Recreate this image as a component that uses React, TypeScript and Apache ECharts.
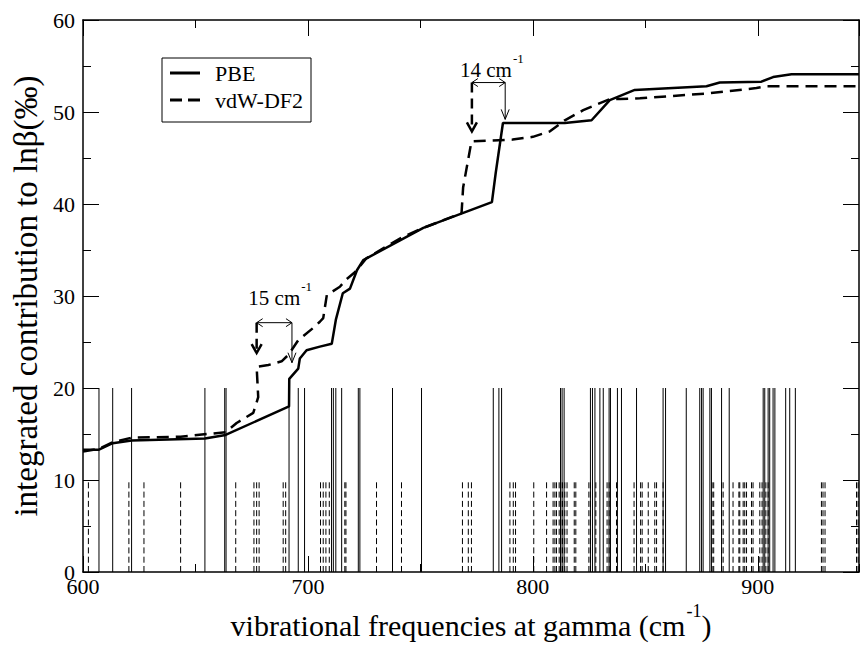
import React, { useEffect, useRef } from 'react';
import * as echarts from 'echarts';

const SERIF = '"Liberation Serif", "Times New Roman", Times, serif';

const X_MIN = 600;
const X_MAX = 945;
const Y_MIN = 0;
const Y_MAX = 60;

const X_TITLE_MAIN = 'vibrational frequencies at gamma (cm';
const X_TITLE_SUP = '-1';
const Y_TITLE = 'integrated contribution to lnβ(‰)';
const SERIES_NAMES = ['PBE', 'vdW-DF2'];

// vibrational frequencies (cm-1) drawn as sticks
const PBE_FREQUENCIES = [
  607.1, 613.2, 621.6, 654.2, 663.0, 663.6, 691.6, 695.7, 698.5,
  710.5, 711.3, 712.4, 715.0, 722.4, 723.1, 737.6, 750.5, 782.4, 784.9, 786.1,
  812.3, 813.0, 813.9, 825.6, 826.5, 827.6, 829.8, 831.3, 833.9, 834.5, 837.6, 839.4,
  846.1, 857.9, 859.0, 868.2,
  874.2, 875.0, 875.7, 878.7, 879.4, 883.9, 887.3, 902.4, 903.1, 904.6, 905.3,
  906.8, 907.6, 912.4, 914.2, 916.7,
];
const VDW_FREQUENCIES = [
  602.4, 620.4, 627.1, 643.4, 667.9, 676.0, 677.2, 678.3, 689.0, 690.1,
  705.6, 706.8, 708.0, 709.5, 716.4, 716.9, 730.5, 741.6, 768.7, 771.3, 772.7,
  789.8, 791.3, 792.3,
  800.4, 806.1, 809.0, 809.8, 810.5, 811.7, 812.4, 813.2, 814.2, 815.2, 818.4, 819.1,
  824.9, 825.6, 828.0, 833.0, 833.9, 837.2, 845.0, 847.9, 848.6, 851.3, 854.2, 855.0,
  857.9,
  879.7, 880.4, 883.9, 884.6, 889.0, 891.6, 892.0, 893.5, 894.2, 895.0, 897.2, 897.9,
  900.9, 901.9, 903.6, 904.6, 928.3, 929.0, 929.9, 943.9, 944.6,
];
const PBE_STICK_HEIGHT = 20;
const VDW_STICK_HEIGHT = 10;

// cumulative curves
const PBE_CURVE_X = [
  600, 607.1, 613.2, 621.6, 654.2, 663.4, 691.6, 691.7, 695.7, 696.4, 699.4, 705.3,
  710.6, 712.4, 715.5, 718.7, 721.8, 724.6, 751.3, 781.8, 783.5, 786.7, 814.2, 826.1,
  834.2, 845.3, 877.2, 883.1, 901.6, 906.8, 915.0, 945,
];
const PBE_CURVE_Y = [
  13.3, 13.3, 14.0, 14.3, 14.5, 14.9, 18.0, 21.0, 22.1, 23.2, 24.1, 24.5,
  24.8, 27.4, 30.3, 30.8, 32.8, 33.9, 37.4, 40.2, 43.4, 48.8, 48.8, 49.1,
  51.3, 52.4, 52.8, 53.2, 53.3, 53.8, 54.1, 54.1,
];
const VDW_CURVE_X = [
  600, 607.1, 613.2, 621.6, 643.4, 663.4, 668.3, 675.7, 677.9, 677.2, 682.4, 688.3,
  691.3, 695.7, 702.2, 705.3, 706.8, 708.4, 714.2, 717.0, 721.0, 726.0, 742.0, 751.3,
  768.3, 769.0, 772.7, 791.0, 800.0, 807.6, 814.2, 822.4, 834.2, 838.7, 847.6, 877.0,
  899.4, 903.9, 945,
];
const VDW_CURVE_Y = [
  13.1, 13.4, 14.1, 14.6, 14.7, 15.2, 16.2, 17.3, 19.0, 22.3, 22.5, 22.9,
  23.6, 25.2, 26.5, 27.2, 27.6, 30.1, 31.0, 31.8, 32.6, 34.1, 36.4, 37.4,
  39.0, 41.8, 46.8, 47.0, 47.3, 47.9, 49.1, 50.2, 51.4, 51.4, 51.5, 52.0,
  52.6, 52.8, 52.8,
];

// shift annotations (data units)
const ANNOTATION_LABELS = ['15 cm', '14 cm'];
const ANNOTATION_TEXT_X = [673.5, 767.6];
const ANNOTATION_TEXT_Y = [29.0, 53.8];
const ANNOTATION_ARROW_Y = [27.1, 53.2];
const ANNOTATION_DASH_X = [677.2, 772.9];
const ANNOTATION_DASH_TIP = [23.8, 47.9];
const ANNOTATION_SOLID_X = [692.9, 787.7];
const ANNOTATION_SOLID_TIP = [22.75, 49.2];

const zip = (xs: number[], ys: number[]) => xs.map((x, i) => [x, ys[i]]);

function stickSeries(freqs: number[], height: number, dashed: boolean) {
  return {
    type: 'custom',
    silent: true,
    data: freqs.map((f) => [f, height]),
    z: 1,
    renderItem: (_params: any, api: any) => {
      const x = api.value(0);
      const h = api.value(1);
      const p0 = api.coord([x, 0]);
      const p1 = api.coord([x, h]);
      return {
        type: 'line',
        shape: { x1: p0[0], y1: p0[1], x2: p1[0], y2: p1[1] },
        style: { stroke: '#000', lineWidth: 1, lineDash: dashed ? [6, 3.3] : null },
      };
    },
  };
}

function buildOption() {
  const axisLine = { show: true, lineStyle: { color: '#000', width: 1.5 } };
  const tickStyle = { color: '#000', width: 1 };
  const xBase = { type: 'value', min: X_MIN, max: X_MAX, splitLine: { show: false } };
  const yBase = { type: 'value', min: Y_MIN, max: Y_MAX, interval: 10, splitLine: { show: false } };
  return {
    animation: false,
    backgroundColor: '#fff',
    grid: { left: 83, right: 1, top: 20, bottom: 74 },
    legend: {
      data: [
        { name: SERIES_NAMES[0], icon: 'path://M0,0h30v3h-30z' },
        { name: SERIES_NAMES[1], icon: 'path://M0,0h12v3h-12zM18,0h12v3h-12z' },
      ],
      orient: 'vertical',
      left: 162,
      top: 58,
      itemWidth: 30,
      itemHeight: 3,
      itemGap: 5,
      padding: [4, 8, 11, 8],
      borderColor: '#000',
      borderWidth: 1,
      borderRadius: 0,
      selectedMode: false,
      itemStyle: { color: '#000', borderWidth: 0 },
      textStyle: { fontSize: 22, fontFamily: SERIF, color: '#000', padding: [0, 0, 0, 10] },
    },
    xAxis: [
      {
        ...xBase,
        position: 'bottom',
        interval: 100,
        axisLine,
        axisTick: { show: true, inside: true, length: 16, lineStyle: tickStyle },
        axisLabel: { show: true, color: '#000', fontSize: 22, fontFamily: SERIF, margin: 3, showMaxLabel: false },
        name: `{a|${X_TITLE_MAIN}}{s|${X_TITLE_SUP}}{a|)}`,
        nameLocation: 'middle',
        nameGap: 26,
        nameTextStyle: {
          rich: {
            a: { fontSize: 30, fontFamily: SERIF, color: '#000', lineHeight: 31, verticalAlign: 'bottom' },
            s: { fontSize: 18, fontFamily: SERIF, color: '#000', verticalAlign: 'bottom', padding: [0, 0, 21, 1] },
          },
        },
      },
      {
        ...xBase,
        position: 'bottom',
        interval: 50,
        axisLine: { show: false },
        axisTick: { show: true, inside: true, length: 8, lineStyle: tickStyle },
        axisLabel: { show: false },
      },
      {
        ...xBase,
        position: 'top',
        interval: 100,
        axisLine,
        axisTick: { show: true, inside: true, length: 16, lineStyle: tickStyle },
        axisLabel: { show: false },
      },
      {
        ...xBase,
        position: 'top',
        interval: 50,
        axisLine: { show: false },
        axisTick: { show: true, inside: true, length: 8, lineStyle: tickStyle },
        axisLabel: { show: false },
      },
    ],
    yAxis: [
      {
        ...yBase,
        position: 'left',
        axisLine,
        axisTick: { show: true, inside: true, length: 16, lineStyle: tickStyle },
        minorTick: { show: true, splitNumber: 2, length: 8, lineStyle: tickStyle },
        axisLabel: { show: true, color: '#000', fontSize: 22, fontFamily: SERIF, margin: 8 },
        name: Y_TITLE,
        nameLocation: 'middle',
        nameRotate: 90,
        nameGap: 29,
        nameTextStyle: { fontSize: 33, fontFamily: SERIF, color: '#000' },
      },
      {
        ...yBase,
        position: 'right',
        axisLine,
        axisTick: { show: true, inside: true, length: 16, lineStyle: tickStyle },
        minorTick: { show: true, splitNumber: 2, length: 8, lineStyle: tickStyle },
        axisLabel: { show: false },
      },
    ],
    series: [
      stickSeries(PBE_FREQUENCIES, PBE_STICK_HEIGHT, false),
      stickSeries(VDW_FREQUENCIES, VDW_STICK_HEIGHT, true),
      {
        type: 'line',
        name: SERIES_NAMES[0],
        data: zip(PBE_CURVE_X, PBE_CURVE_Y),
        symbol: 'none',
        color: '#000',
        lineStyle: { color: '#000', width: 2.5, type: 'solid' },
        z: 3,
      },
      {
        type: 'line',
        name: SERIES_NAMES[1],
        data: zip(VDW_CURVE_X, VDW_CURVE_Y),
        symbol: 'none',
        color: '#000',
        lineStyle: { color: '#000', width: 2.5, type: [12, 7] },
        z: 3,
      },
    ],
  };
}

function measureText(text: string, font: string) {
  const ctx = document.createElement('canvas').getContext('2d');
  if (!ctx) return text.length * 10;
  ctx.font = font;
  return ctx.measureText(text).width;
}

function buildAnnotations(toPx: (x: number, y: number) => number[]) {
  const els: any[] = [];
  const FS = 21;
  const SUP_FS = 13;
  ANNOTATION_LABELS.forEach((label, i) => {
    const [tx, tyBase] = toPx(ANNOTATION_TEXT_X[i], ANNOTATION_TEXT_Y[i]);
    const w = measureText(label, `${FS}px "Liberation Serif"`);
    els.push({
      type: 'text',
      x: tx,
      y: tyBase - 0.34 * FS,
      style: { text: label, fontSize: FS, fontFamily: SERIF, fill: '#000', align: 'left', verticalAlign: 'middle' },
    });
    els.push({
      type: 'text',
      x: tx + w + 1,
      y: tyBase - 0.9 * FS,
      style: { text: '-1', fontSize: SUP_FS, fontFamily: SERIF, fill: '#000', align: 'left', verticalAlign: 'middle' },
    });
    const [xa, ya] = toPx(ANNOTATION_DASH_X[i], ANNOTATION_ARROW_Y[i]);
    const [xb] = toPx(ANNOTATION_SOLID_X[i], ANNOTATION_ARROW_Y[i]);
    // double-headed arrow
    els.push({ type: 'line', shape: { x1: xa, y1: ya, x2: xb, y2: ya }, style: { stroke: '#000', lineWidth: 1 } });
    els.push({ type: 'polyline', shape: { points: [[xa + 6, ya - 4], [xa, ya], [xa + 6, ya + 4]] }, style: { stroke: '#000', fill: null, lineWidth: 1 } });
    els.push({ type: 'polyline', shape: { points: [[xb - 6, ya - 4], [xb, ya], [xb - 6, ya + 4]] }, style: { stroke: '#000', fill: null, lineWidth: 1 } });
    // dashed bold arrow
    const [, yDashTip] = toPx(ANNOTATION_DASH_X[i], ANNOTATION_DASH_TIP[i]);
    els.push({ type: 'line', shape: { x1: xa, y1: ya, x2: xa, y2: yDashTip - 2 }, style: { stroke: '#000', lineWidth: 2.5, lineDash: [10, 6] } });
    els.push({ type: 'polyline', shape: { points: [[xa - 5, yDashTip - 9], [xa, yDashTip], [xa + 5, yDashTip - 9]] }, style: { stroke: '#000', fill: null, lineWidth: 2.5 } });
    // thin solid arrow
    const [, ySolidTip] = toPx(ANNOTATION_SOLID_X[i], ANNOTATION_SOLID_TIP[i]);
    els.push({ type: 'line', shape: { x1: xb, y1: ya, x2: xb, y2: ySolidTip }, style: { stroke: '#000', lineWidth: 1 } });
    els.push({ type: 'polyline', shape: { points: [[xb - 4, ySolidTip - 10], [xb, ySolidTip], [xb + 4, ySolidTip - 10]] }, style: { stroke: '#000', fill: null, lineWidth: 1 } });
  });
  return els;
}

export default function App() {
  const ref = useRef<HTMLDivElement>(null);
  useEffect(() => {
    document.body.style.margin = '0';
    const chart = echarts.init(ref.current as HTMLDivElement, null, { renderer: 'svg' });
    chart.setOption(buildOption() as any);
    const toPx = (x: number, y: number) =>
      chart.convertToPixel({ xAxisIndex: 0, yAxisIndex: 0 }, [x, y]) as number[];
    chart.setOption({ graphic: buildAnnotations(toPx) } as any);
    return () => chart.dispose();
  }, []);
  return (
    <div
      ref={ref}
      style={{ position: 'absolute', left: 0, top: 0, width: 860, height: 646, background: '#fff' }}
    />
  );
}
